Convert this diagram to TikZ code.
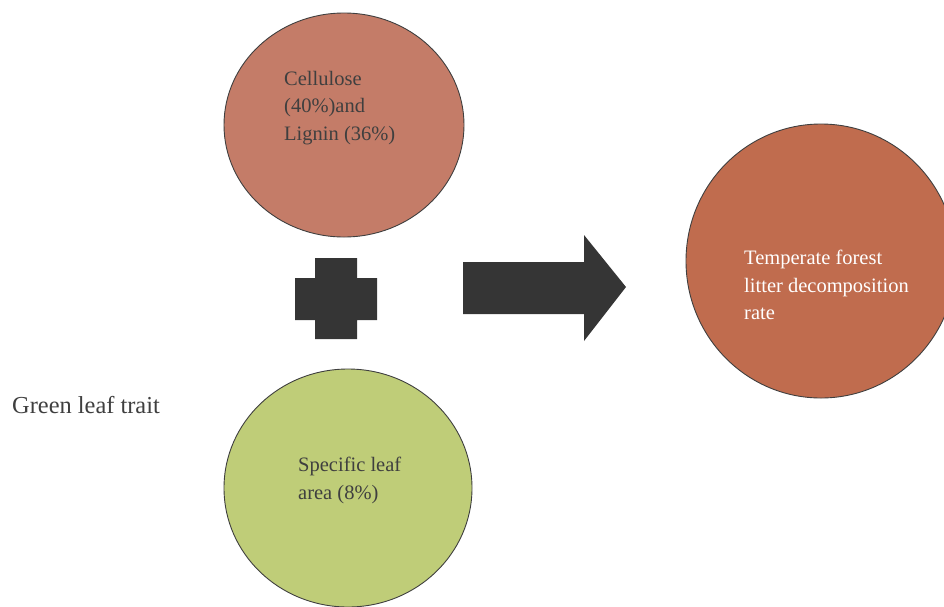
\documentclass[tikz,border=0pt]{standalone}
\usepackage{fontspec}
\setmainfont{Liberation Serif}
\usetikzlibrary{shapes.geometric}
\definecolor{brickA}{HTML}{C47C68}
\definecolor{brickB}{HTML}{C06C4E}
\definecolor{leafG}{HTML}{BFCD78}
\definecolor{txtG}{HTML}{3F3F3F}
\definecolor{shapeG}{HTML}{353535}
\tikzset{
  bubble/.style={ellipse, draw=txtG, line width=0.9pt, inner sep=0pt},
  lbl/.style={align=left, anchor=west, inner sep=0pt, text=txtG,
    font=\fontsize{20.5}{27.5}\selectfont},
  darkshape/.style={fill=shapeG, draw=none}
}
\begin{document}
\begin{tikzpicture}[x=1pt,y=-1pt]
\useasboundingbox (0,0) rectangle (944,606);
\clip (0,0) rectangle (944,606);
\node[bubble, fill=brickA, minimum width=240pt, minimum height=224pt] (top) at (344,125) {};
\node[bubble, fill=brickB, minimum width=270pt, minimum height=274pt] (res) at (821,261) {};
\node[bubble, fill=leafG, minimum width=248pt, minimum height=238pt] (bot) at (348,488) {};
\node[lbl] (toptxt) at (284,108) {Cellulose\\(40\%)and\\Lignin (36\%)};
\node[lbl, text=white] (restxt) at (744,285) {Temperate forest\\litter decomposition\\rate};
\node[lbl] (bottxt) at (298,480.5) {Specific leaf\\area (8\%)};
\node[lbl, font=\fontsize{24.4}{29}\selectfont] (trait) at (12,405) {Green leaf trait};
% plus sign
\fill[darkshape] (315,258) -- (357,258) -- (357,278) -- (377,278) -- (377,320) -- (357,320)
  -- (357,339) -- (315,339) -- (315,320) -- (295,320) -- (295,278) -- (315,278) -- cycle;
% block arrow
\fill[darkshape] (463,262) -- (584,262) -- (584,235) -- (626,287) -- (584,341) -- (584,314)
  -- (463,314) -- cycle;
\end{tikzpicture}
\end{document}
